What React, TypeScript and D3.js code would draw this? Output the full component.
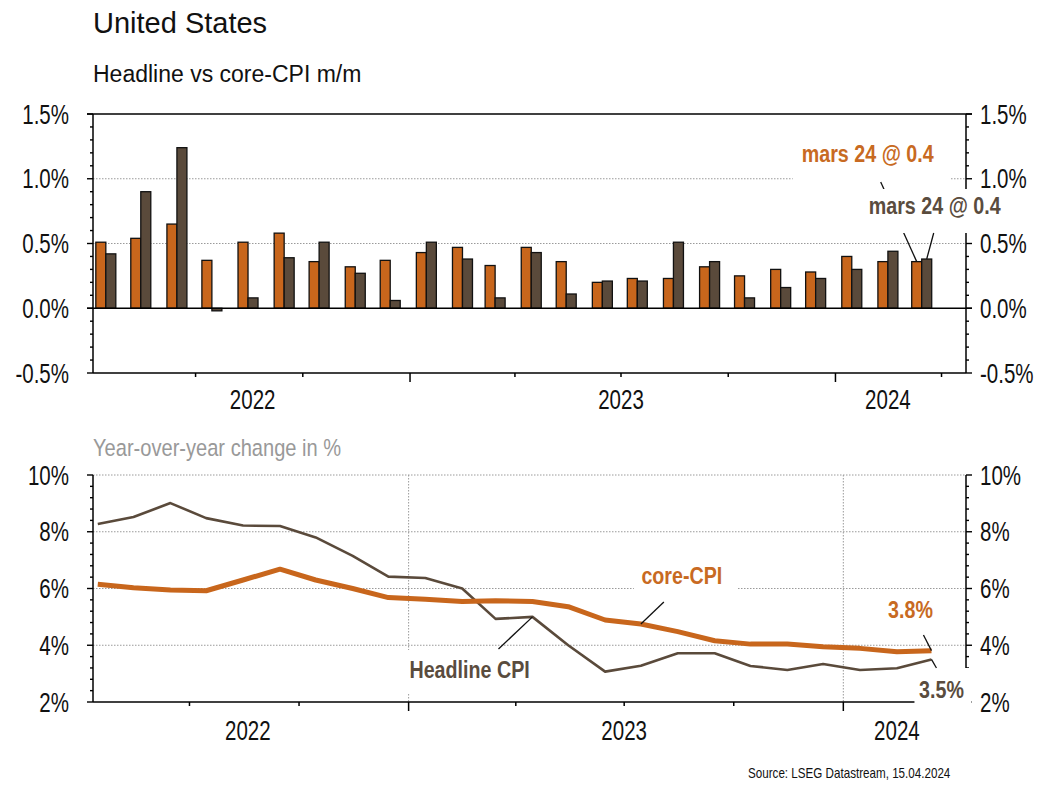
import * as d3 from 'd3'

// ── Data ────────────────────────────────────────────────────────────────────
const MONTHS = [
  '2022-04', '2022-05', '2022-06', '2022-07', '2022-08', '2022-09', '2022-10', '2022-11', '2022-12',
  '2023-01', '2023-02', '2023-03', '2023-04', '2023-05', '2023-06', '2023-07', '2023-08', '2023-09',
  '2023-10', '2023-11', '2023-12', '2024-01', '2024-02', '2024-03',
]
const CORE_MM = [0.51, 0.54, 0.65, 0.37, 0.51, 0.58, 0.36, 0.32, 0.37, 0.43, 0.47, 0.33,
  0.47, 0.36, 0.20, 0.23, 0.23, 0.32, 0.25, 0.30, 0.28, 0.40, 0.36, 0.36]
const HEAD_MM = [0.42, 0.90, 1.24, -0.02, 0.08, 0.39, 0.51, 0.27, 0.06, 0.51, 0.38, 0.08,
  0.43, 0.11, 0.21, 0.21, 0.51, 0.36, 0.08, 0.16, 0.23, 0.30, 0.44, 0.38]
const CORE_YOY = [6.15, 6.03, 5.95, 5.92, 6.3, 6.68, 6.3, 6.0, 5.68, 5.62, 5.54, 5.57,
  5.54, 5.36, 4.89, 4.75, 4.48, 4.16, 4.04, 4.04, 3.95, 3.89, 3.77, 3.81]
const HEAD_YOY = [8.27, 8.52, 9.01, 8.48, 8.22, 8.2, 7.8, 7.15, 6.42, 6.37, 6.0, 4.93,
  5.0, 4.0, 3.07, 3.28, 3.72, 3.72, 3.27, 3.13, 3.34, 3.13, 3.19, 3.5]
const MM_TICKS = [-0.5, 0, 0.5, 1.0, 1.5]
const YOY_TICKS = [2, 4, 6, 8, 10]
const YEARS = ['2022', '2023', '2024']
const YEAR_LABEL_DATES = ['2022-08-19', '2023-07-01', '2024-02-15']

const ORANGE = '#C8661C'
const BROWN = '#5A4A3B'
const ORANGE_TXT = '#C86A22'
const BROWN_TXT = '#5A4C3E'
const GRID = '#9a9a9a'
const FONT = "'Liberation Sans', Arial, sans-serif"
const NARROW = 0.82 // Arial Narrow is not installed: squeeze Liberation Sans instead

const parseM = d3.utcParse('%Y-%m')
const parseD = d3.utcParse('%Y-%m-%d')
const dates = MONTHS.map(m => d3.utcDay.offset(parseM(m)!, 14))

// ── Scales ──────────────────────────────────────────────────────────────────
const L = 93
const R = 966
const xTop = d3.scaleUtc([Date.UTC(2022, 3, 4), Date.UTC(2024, 3, 22)], [L, R])
const yTop = d3.scaleLinear([-0.5, 1.5], [373, 114])
const xBot = d3.scaleUtc([Date.UTC(2022, 3, 11), Date.UTC(2024, 3, 13)], [L, R])
const yBot = d3.scaleLinear([2, 10], [702, 475])

const BW = 10

type TxtProps = {
  x: number; y: number; anchor?: string; size: number; fill?: string; bold?: boolean
  sx?: number; central?: boolean; children: string
}
function Txt({ x, y, anchor = 'start', size, fill = '#111', bold, sx = NARROW, central, children }: TxtProps) {
  return (
    <text transform={`translate(${x},${y}) scale(${sx},1)`} textAnchor={anchor}
      dominantBaseline={central ? 'central' : undefined}
      fontFamily={FONT} fontSize={size} fontWeight={bold ? 'bold' : 'normal'} fill={fill}>{children}</text>
  )
}

function TickLabel({ x, y, anchor, children }: { x: number; y: number; anchor: string; children: string }) {
  return <Txt x={x} y={y} anchor={anchor} size={27} sx={0.76} central>{children}</Txt>
}

function YAxisTicks({ y, minor, x, dir, majors }: {
  y: d3.ScaleLinear<number, number>; minor: number[]; x: number; dir: number; majors: number[]
}) {
  return (
    <g stroke="#000" strokeWidth={1.4}>
      {minor.map((v, i) => {
        const len = majors.includes(+v.toFixed(2)) ? 6 : 3
        return <line key={i} x1={x} x2={x + dir * len} y1={y(v)} y2={y(v)} />
      })}
    </g>
  )
}

export default function App() {
  const topMinor = d3.range(-5, 16).map(i => i / 10)
  const botMinor = d3.range(0, 21).map(i => 2 + i * 0.4)
  const topQuarters = d3.utcMonth.every(3)!.range(xTop.domain()[0], xTop.domain()[1])
  const botQuarters = d3.utcMonth.every(3)!.range(xBot.domain()[0], xBot.domain()[1])

  const line = d3.line<number>().x((_, i) => xBot(dates[i])).y(d => yBot(d))

  const n = dates.length - 1
  const lastX = xTop(dates[n])
  const oTop = { x: lastX - BW / 2, y: yTop(CORE_MM[n]) }
  const hTop = { x: lastX + BW / 2, y: yTop(HEAD_MM[n]) }

  const pCore = { x: xBot(dates[15]), y: yBot(CORE_YOY[15]) }
  const pHead = { x: xBot(dates[12]), y: yBot(HEAD_YOY[12]) }
  const lastCore = { x: xBot(dates[n]), y: yBot(CORE_YOY[n]) }
  const lastHead = { x: xBot(dates[n]), y: yBot(HEAD_YOY[n]) }

  return (
    <svg width={1056} height={787} style={{ position: 'absolute', left: 0, top: 0, background: '#fff' }}>
      <rect width={1056} height={787} fill="#fff" />

      {/* Titles */}
      <Txt x={93} y={33} size={29} sx={1}>United States</Txt>
      <Txt x={93} y={82} size={23} sx={1}>Headline vs core-CPI m/m</Txt>

      {/* ── Top panel ──────────────────────────────────────────────── */}
      <g stroke={GRID} strokeWidth={1} strokeDasharray="1.5,1.5">
        {[0.5, 1.0].map(v => <line key={v} x1={L} x2={R} y1={yTop(v)} y2={yTop(v)} />)}
      </g>

      {dates.map((d, i) => {
        const cx = xTop(d)
        const bar = (v: number, x: number, fill: string) => (
          <rect x={x} y={yTop(Math.max(v, 0))} width={BW} height={Math.abs(yTop(v) - yTop(0))}
            fill={fill} stroke="#111" strokeWidth={1.3} />
        )
        return (
          <g key={i}>
            {bar(CORE_MM[i], cx - BW, ORANGE)}
            {bar(HEAD_MM[i], cx, BROWN)}
          </g>
        )
      })}

      <g stroke="#000" strokeWidth={1.5}>
        <line x1={L - 6} x2={R + 6} y1={yTop(1.5)} y2={yTop(1.5)} />
        <line x1={L - 6} x2={R + 6} y1={yTop(0)} y2={yTop(0)} />
        <line x1={L} x2={L} y1={yTop(1.5)} y2={yTop(-0.5)} />
        <line x1={R} x2={R} y1={yTop(1.5)} y2={yTop(-0.5)} />
        <line x1={L} x2={R} y1={yTop(-0.5)} y2={yTop(-0.5)} />
        {topQuarters.map((q, i) => {
          const major = q.getUTCMonth() === 0
          return <line key={i} x1={xTop(q)} x2={xTop(q)} y1={yTop(-0.5)} y2={yTop(-0.5) + (major ? 9 : 4)} />
        })}
      </g>
      <YAxisTicks y={yTop} minor={topMinor} x={L} dir={-1} majors={MM_TICKS} />
      <YAxisTicks y={yTop} minor={topMinor} x={R} dir={1} majors={MM_TICKS} />
      {MM_TICKS.map(v => (
        <g key={v}>
          <TickLabel x={69} y={yTop(v)} anchor="end">{`${v.toFixed(1)}%`}</TickLabel>
          <TickLabel x={980} y={yTop(v)} anchor="start">{`${v.toFixed(1)}%`}</TickLabel>
        </g>
      ))}
      {YEARS.map((yr, i) => (
        <TickLabel key={yr} x={xTop(parseD(YEAR_LABEL_DATES[i])!)} y={399} anchor="middle">{yr}</TickLabel>
      ))}

      {/* Top annotations */}
      <rect x={lastX - 129} y={137} width={158} height={44} fill="#fff" />
      <Txt x={lastX - 54} y={162} anchor="middle" size={24} bold fill={ORANGE_TXT}>mars 24 @ 0.4</Txt>
      <line x1={lastX - 41} y1={182} x2={oTop.x} y2={oTop.y} stroke="#111" strokeWidth={1.3} />
      <rect x={lastX - 59} y={189} width={143} height={44} fill="#fff" />
      <Txt x={lastX + 13} y={214} anchor="middle" size={24} bold fill={BROWN_TXT}>mars 24 @ 0.4</Txt>
      <line x1={lastX + 12} y1={233} x2={hTop.x} y2={hTop.y} stroke="#111" strokeWidth={1.3} />

      {/* ── Bottom panel ───────────────────────────────────────────── */}
      <Txt x={93} y={456} size={24.5} fill="#999">Year-over-year change in %</Txt>

      <g stroke={GRID} strokeWidth={1} strokeDasharray="1.5,1.5">
        {[4, 6, 8, 10].map(v => <line key={v} x1={L} x2={R} y1={yBot(v)} y2={yBot(v)} />)}
        {botQuarters.filter(q => q.getUTCMonth() === 0).map((q, i) => (
          <line key={i} x1={xBot(q)} x2={xBot(q)} y1={yBot(10)} y2={yBot(2)} />
        ))}
      </g>

      <path d={line(HEAD_YOY)!} fill="none" stroke={BROWN} strokeWidth={2.6} strokeLinejoin="round" />
      <path d={line(CORE_YOY)!} fill="none" stroke={ORANGE} strokeWidth={5} strokeLinejoin="round" />

      <g stroke="#000" strokeWidth={1.5}>
        <line x1={L} x2={L} y1={yBot(10)} y2={yBot(2)} />
        <line x1={R} x2={R} y1={yBot(10)} y2={yBot(2)} />
        <line x1={L} x2={R} y1={yBot(2)} y2={yBot(2)} />
        {botQuarters.map((q, i) => {
          const major = q.getUTCMonth() === 0
          return <line key={i} x1={xBot(q)} x2={xBot(q)} y1={yBot(2)} y2={yBot(2) + (major ? 9 : 4)} />
        })}
      </g>
      <YAxisTicks y={yBot} minor={botMinor} x={L} dir={-1} majors={YOY_TICKS} />
      <YAxisTicks y={yBot} minor={botMinor} x={R} dir={1} majors={YOY_TICKS} />
      {YOY_TICKS.map(v => (
        <g key={v}>
          <TickLabel x={69} y={yBot(v)} anchor="end">{`${v}%`}</TickLabel>
          <TickLabel x={980} y={yBot(v)} anchor="start">{`${v}%`}</TickLabel>
        </g>
      ))}
      {YEARS.map((yr, i) => (
        <TickLabel key={yr} x={xBot(parseD(YEAR_LABEL_DATES[i])!)} y={730} anchor="middle">{yr}</TickLabel>
      ))}

      {/* Bottom annotations */}
      <rect x={pCore.x - 7} y={560} width={104} height={38} fill="#fff" />
      <Txt x={pCore.x + 41} y={584} anchor="middle" size={24} bold fill={ORANGE_TXT}>core-CPI</Txt>
      <line x1={pCore.x + 23} y1={602} x2={pCore.x} y2={pCore.y} stroke="#111" strokeWidth={1.3} />

      <rect x={pHead.x - 127} y={650} width={132} height={43} fill="#fff" />
      <Txt x={pHead.x - 123} y={678} size={24} bold fill={BROWN_TXT}>Headline CPI</Txt>
      <line x1={pHead.x - 34} y1={649} x2={pHead.x} y2={pHead.y} stroke="#111" strokeWidth={1.3} />

      <Txt x={lastCore.x - 21} y={618} anchor="middle" size={24} bold fill={ORANGE_TXT}>3.8%</Txt>
      <line x1={lastCore.x - 8} y1={635} x2={lastCore.x} y2={lastCore.y} stroke="#111" strokeWidth={1.3} />

      <rect x={lastHead.x - 17} y={668} width={57} height={38} fill="#fff" />
      <Txt x={lastHead.x + 10} y={698} anchor="middle" size={24} bold fill={BROWN_TXT}>3.5%</Txt>
      <line x1={lastHead.x} y1={lastHead.y} x2={lastHead.x + 5} y2={668} stroke="#111" strokeWidth={1.3} />

      <Txt x={748} y={778} size={14.2}>Source: LSEG Datastream, 15.04.2024</Txt>
    </svg>
  )
}
